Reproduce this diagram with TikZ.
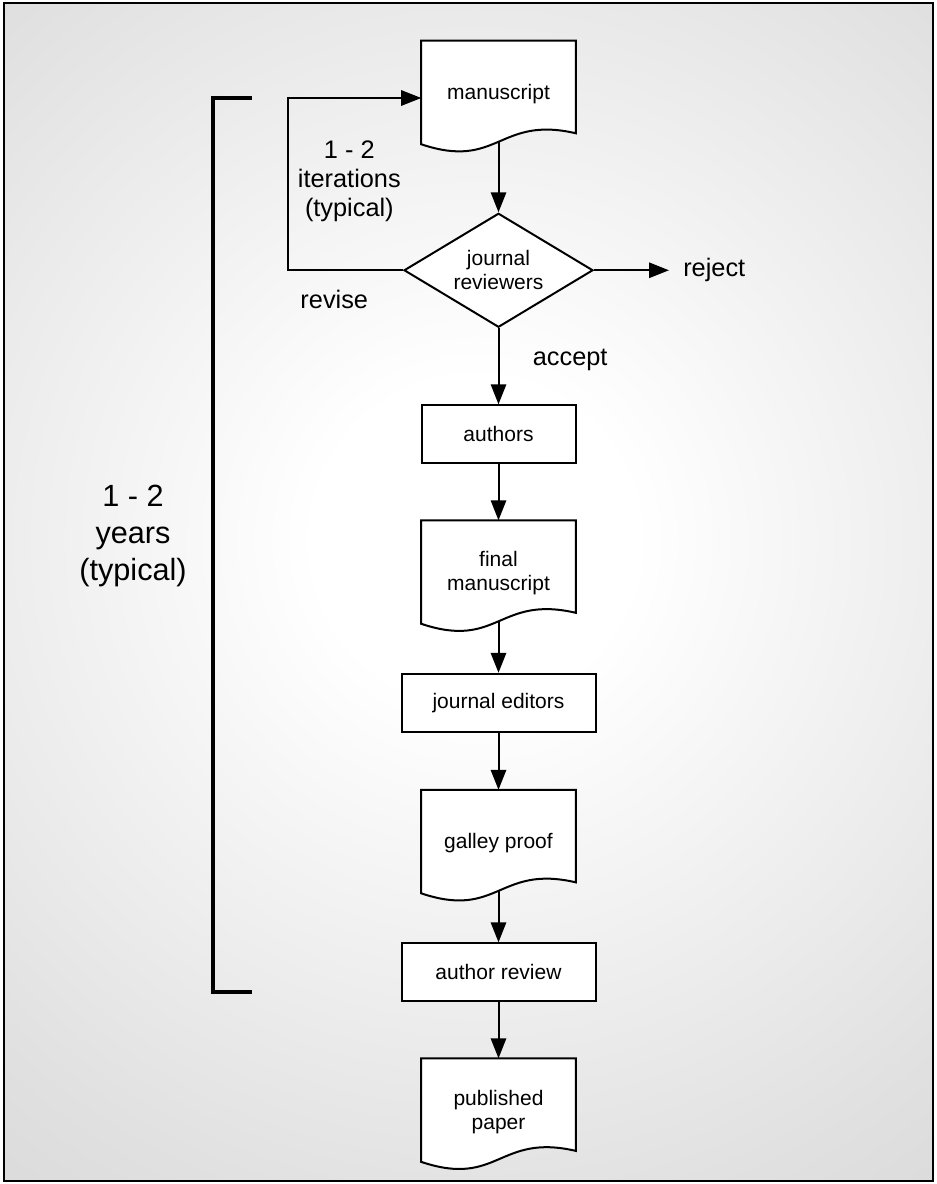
\documentclass[tikz,border=0pt]{standalone}
\usepackage{fontspec}
\setmainfont{Liberation Sans}
\usepackage{tikz}
\usetikzlibrary{arrows.meta,positioning,shapes.geometric,backgrounds}

\definecolor{bgmid}{gray}{0.88}
\definecolor{bgfar}{gray}{0.80}
\definecolor{bgout}{gray}{0.74}
\definecolor{bgedge}{gray}{0.72}
\pgfdeclareradialshading{paper}{\pgfpoint{0bp}{0bp}}{color(0bp)=(white); color(5bp)=(white); color(21.5bp)=(bgmid); color(35bp)=(bgfar); color(45.6bp)=(bgout); color(50bp)=(bgedge)}

\newcommand{\boxfont}{\fontsize{15.75}{18}\selectfont}
\newcommand{\lblfont}{\fontsize{19}{22}\selectfont}
\newcommand{\bigfont}{\fontsize{23}{27.75}\selectfont}
% page shape drawn behind a docbox node
\newcommand{\docoutline}[1]{%
  \draw[line width=1.5pt, fill=white] (#1.north west) -- (#1.north east)
    -- ([yshift=10.5pt]#1.south east)
    .. controls ([yshift=24pt]#1.south) and ([yshift=-17.25pt]#1.south) ..
    ([yshift=2.25pt]#1.south west) -- cycle;}

\begin{document}
\begin{tikzpicture}[
  x=0.75pt, y=-0.75pt,
  docbox/.style={rectangle, minimum width=115.5pt, minimum height=79.5pt, inner sep=0pt, align=center, font=\boxfont},
  procbox/.style={rectangle, draw, fill=white, line width=1.5pt, minimum height=43.5pt, inner sep=0pt, align=center, font=\boxfont},
  decision/.style={diamond, draw, fill=white, line width=1.5pt, minimum width=141.75pt, minimum height=85.5pt, shape aspect=1.66, inner sep=0pt, align=center, font=\boxfont},
  lbl/.style={inner sep=0pt, align=center, font=\lblfont},
  biglbl/.style={inner sep=0pt, align=center, font=\bigfont},
  flow/.style={line width=1.5pt, -{Triangle[length=15pt,width=11.5pt]}},
  bracket/.style={line width=3pt}
]
\useasboundingbox (0,0) rectangle (937,1184);

% shaded paper
\begin{pgfonlayer}{background}
\begin{scope}
  \clip (4,3) rectangle (933,1181);
  \shade[shading=paper] (475,540) circle (800);
\end{scope}
\end{pgfonlayer}
\draw[line width=1.5pt] (4,3) rectangle (933,1181);

% flow
\node[docbox] (ms) at (498.5,94) {manuscript};
\node[decision, below=48.75pt of ms] (rev) {journal\\reviewers};
\node[procbox, minimum width=115.5pt, below=57pt of rev] (au) {authors};
\node[docbox, below=42pt of au] (fm) {final\\manuscript};
\node[procbox, minimum width=145.5pt, below=34.5pt of fm] (ed) {journal editors};
\node[docbox, below=42.75pt of ed] (gp) {galley proof};
\node[procbox, minimum width=145.5pt, below=34.5pt of gp] (ar) {author review};
\node[docbox, below=42pt of ar] (pp) {published\\paper};

\begin{pgfonlayer}{background}
\docoutline{ms}
\docoutline{fm}
\docoutline{gp}
\docoutline{pp}
\end{pgfonlayer}

% labels
\node[lbl, inner xsep=10.5pt, right=56.25pt of rev] (rej) {reject};
\node[lbl, below left=15pt and 26pt of rev.west] (rv) {revise};
\node[lbl, above left=36pt and 1.5pt of rev.west] (it) {1 - 2\\iterations\\(typical)};
\node[biglbl] (yrs) at (133,536) {1 - 2\\years\\(typical)};

% connectors
\draw[flow] ([yshift=4.5pt]ms.south) -- (rev);
\draw[flow] (rev) -- (rej);
\draw[flow] (rev.west) -- ++(-86.25pt,0) |- ([yshift=-3pt]ms.west);
\draw[flow] (rev) -- node[lbl, right=25pt, pos=0.42] (acc) {accept} (au);
\draw[flow] (au) -- (fm);
\draw[flow] ([yshift=4.5pt]fm.south) -- (ed);
\draw[flow] (ed) -- (gp);
\draw[flow] ([yshift=4.5pt]gp.south) -- (ar);
\draw[flow] (ar) -- (pp);

% time span bracket
\draw[bracket] (252,98) -- (213,98) -- (213,992) -- (252,992);
\end{tikzpicture}
\end{document}
